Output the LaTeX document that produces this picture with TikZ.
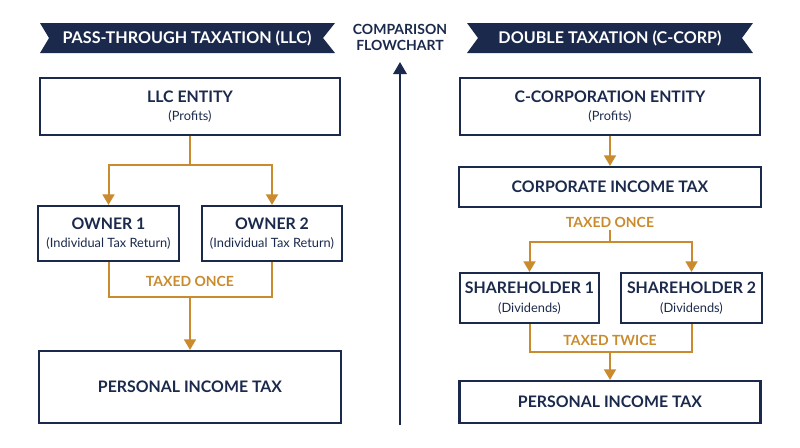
\documentclass[tikz,border=0pt]{standalone}
\usepackage{fontspec}
\setmainfont{Lato}
\usepackage{tikz}
\usetikzlibrary{arrows.meta,positioning,shapes}
\definecolor{navy}{HTML}{1B2A4C}
\definecolor{gold}{HTML}{C98B2E}

\begin{document}
\begin{tikzpicture}[x=0.75pt, y=-0.75pt, >={Triangle[width=9pt,length=8pt]},
    every node/.style={inner sep=0pt, text=navy},
    box/.style={draw=navy, line width=1.6pt, fill=white, align=center,
        font=\fontsize{11.9}{15}\selectfont\bfseries},
    ribbon/.style={fill=navy, draw=none},
    ribbontext/.style={text=white, font=\fontsize{12.1}{14}\selectfont\bfseries},
    flow/.style={draw=gold, line width=1.5pt},
    taxed/.style={text=gold, font=\fontsize{10.5}{12}\selectfont\bfseries},
    axis/.style={draw=navy, line width=1.6pt, -{Triangle[width=10pt,length=9pt]}}
    ]
\useasboundingbox (0,0) rectangle (800,447);
% banners
\path[ribbon] (40,23) -- (335,23) -- (323,38) -- (335,53) -- (40,53) -- (49,38) -- cycle;
\node[ribbontext] (banL) at (187,38) {PASS-THROUGH TAXATION (LLC)};
\path[ribbon] (467,23) -- (753,23) -- (742,38) -- (753,53) -- (467,53) -- (478,38) -- cycle;
\node[ribbontext] (banR) at (610,38) {DOUBLE TAXATION (C-CORP)};
\node[align=center, font=\fontsize{10.5}{12}\selectfont\bfseries] (title) at (400,37) {COMPARISON\\FLOWCHART};
\coordinate (axbot) at (400,425);
\coordinate (axtop) at (400,62);
\draw[axis] (axbot) -- (axtop);

% LLC
\node[box, minimum width=225pt, minimum height=42.75pt] (llc) at (190,106.5)
    {LLC ENTITY\\[-1pt]{\normalfont\fontsize{9.6}{11}\selectfont (Profits)}};
\node[box, minimum width=105.75pt, minimum height=41.25pt] (own1) at (108.5,233.5)
    {OWNER 1\\[-1pt]{\normalfont\fontsize{9.6}{11}\selectfont (Individual Tax Return)}};
\node[box, minimum width=105pt, minimum height=41.25pt] (own2) at (272,233.5)
    {OWNER 2\\[-1pt]{\normalfont\fontsize{9.6}{11}\selectfont (Individual Tax Return)}};
\node[box, minimum width=227pt, minimum height=54pt] (pitL) at (190,387) {PERSONAL INCOME TAX};
\coordinate (splitL) at (190,165);
\coordinate (mergeL) at (190,297);
\node[taxed] (onceL) at (190,281) {TAXED ONCE};
\draw[flow] (llc.south) -- (splitL);
\draw[flow,->] (splitL) -| (own1.north);
\draw[flow,->] (splitL) -| (own2.north);
\draw[flow] (own1.south) |- (mergeL) -| (own2.south);
\draw[flow,->] (mergeL) -- (pitL.north);

% C-Corp
\node[box, minimum width=225pt, minimum height=42.75pt] (cce) at (610,106.5)
    {C-CORPORATION ENTITY\\[-1pt]{\normalfont\fontsize{9.6}{11}\selectfont (Profits)}};
\node[box, minimum width=226.5pt, minimum height=30pt] (cit) at (610,187) {CORPORATE INCOME TAX};
\node[box, minimum width=104.25pt, minimum height=37.5pt] (sh1) at (529.5,298)
    {SHAREHOLDER 1\\[-1pt]{\normalfont\fontsize{9.6}{11}\selectfont (Dividends)}};
\node[box, minimum width=105.75pt, minimum height=37.5pt] (sh2) at (691.5,298)
    {SHAREHOLDER 2\\[-1pt]{\normalfont\fontsize{9.6}{11}\selectfont (Dividends)}};
\node[box, minimum width=225.75pt, minimum height=31.5pt] (pitR) at (610,402) {PERSONAL INCOME TAX};
\node[taxed] (onceR) at (610,222) {TAXED ONCE};
\node[taxed] (twice) at (610,340) {TAXED TWICE};
\coordinate (splitR) at (610,242);
\coordinate (mergeR) at (610,352);
\draw[flow,->] (cce.south) -- (cit.north);
\draw[flow] (onceR.south) ++(0,3) -- (splitR);
\draw[flow,->] (splitR) -| (sh1.north);
\draw[flow,->] (splitR) -| (sh2.north);
\draw[flow] (sh1.south) |- (mergeR) -| (sh2.south);
\draw[flow,->] (mergeR) -- (pitR.north);
\end{tikzpicture}
\end{document}
